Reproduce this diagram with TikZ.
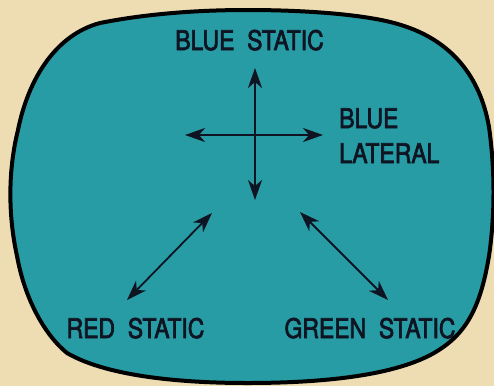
\documentclass[tikz,border=0pt]{standalone}
\usepackage{fontspec}
\usetikzlibrary{arrows.meta}
\newfontfamily\lblfont[FakeStretch=0.85,FakeBold=2.5]{TeX Gyre Heros}
\definecolor{paper}{RGB}{238,221,178}
\definecolor{screen}{RGB}{40,156,164}
\definecolor{ink}{RGB}{14,20,34}
\tikzset{
  lbl/.style={inner sep=0pt, font=\lblfont\fontsize{27}{30}\selectfont, text=ink},
  dbl/.style={draw=ink, line width=1.8pt, {Stealth[length=20pt,width=14pt,inset=6pt]}-{Stealth[length=20pt,width=14pt,inset=6pt]}}
}
\begin{document}
\begin{tikzpicture}[x=1pt,y=-1pt]
\useasboundingbox (0,0) rectangle (494,386);
\fill[paper] (0,0) rectangle (494,386);
\path[draw=black, line width=4pt, fill=screen]
  (247,10) .. controls (310,10) and (370,15) .. (401,25)
  .. controls (450,40) and (480,75) .. (489,127)
  .. controls (495,170) and (495,215) .. (489,256)
  .. controls (480,310) and (465,335) .. (434,353)
  .. controls (390,378) and (310,383) .. (247,383)
  .. controls (190,383) and (110,378) .. (67,353)
  .. controls (45,335) and (25,300) .. (17,256)
  .. controls (8,215) and (8,170) .. (18,130)
  .. controls (28,80) and (55,35) .. (100,23)
  .. controls (140,15) and (190,10) .. (247,10) -- cycle;
\node[lbl, anchor=base] (bs) at (249.5,50) {BLUE\ \ STATIC};
\node[lbl, anchor=base west] (bl1) at (339,128) {BLUE};
\node[lbl, anchor=base west] (bl2) at (339,163) {LATERAL};
\node[lbl, anchor=base] (rs) at (135.5,338) {RED\ \ STATIC};
\node[lbl, anchor=base] (gs) at (370,338) {GREEN\ \ STATIC};
\coordinate (vt) at (255,68);
\coordinate (vb) at (255,200);
\coordinate (hl) at (185,135);
\coordinate (hr) at (323,135);
\coordinate (r1) at (127,300);
\coordinate (r2) at (212,213);
\coordinate (g1) at (300,212);
\coordinate (g2) at (388,300);
\draw[dbl] (vt) -- (vb);
\draw[dbl] (hl) -- (hr);
\draw[dbl] (r1) -- (r2);
\draw[dbl] (g1) -- (g2);
\end{tikzpicture}
\end{document}
